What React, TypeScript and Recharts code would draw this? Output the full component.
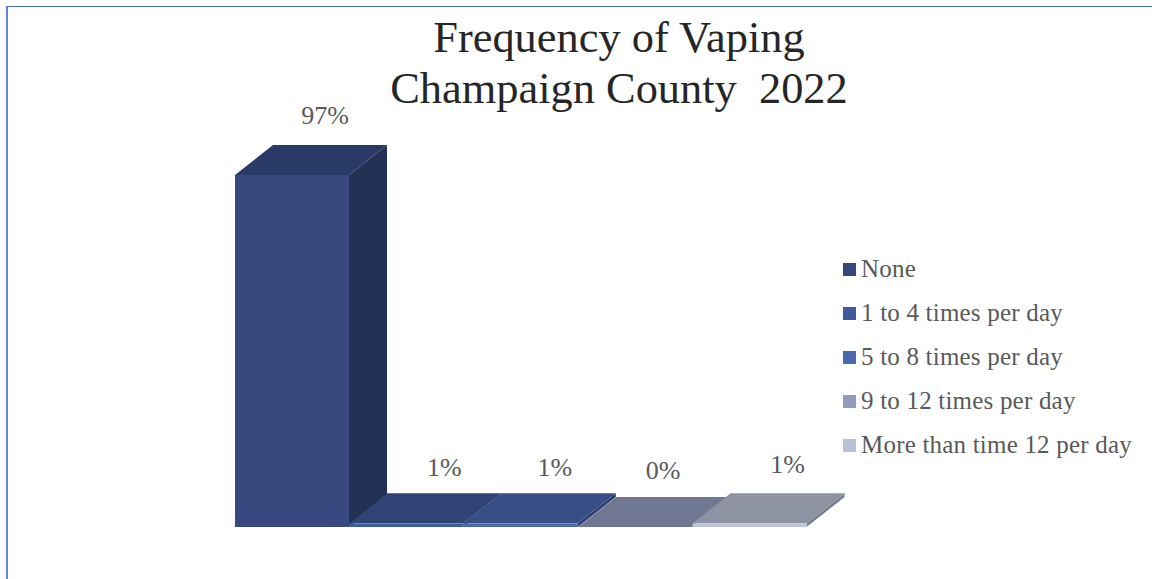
import React from "react";
import { Bar, BarChart, Cell, LabelList, XAxis, YAxis } from "recharts";

const categories = [
  "None",
  "1 to 4 times per day",
  "5 to 8 times per day",
  "9 to 12 times per day",
  "More than time 12 per day",
];
const percents = [97, 1, 1, 0, 1];

const legendColors = ["#35487c", "#3e5a99", "#4a69b0", "#8f9bbd", "#bac2d9"];
const frontColors = ["#38497f", "#3f5da6", "#4a69b5", "#6f7692", "#bcc3da"];
const topColors = ["#2a3a66", "#2f4474", "#384f85", "#707793", "#8d93a3"];
const sideColors = ["#233254", "#2a3f70", "#2a3f70", "#6f7692", "#787e90"];
// the data labels were dragged by hand in the original
const labelNudges = [
  [-3, -3],
  [2, 1],
  [-2, 1],
  [-8, 0],
  [2, -2],
];

const DEPTH_X = 38;
const DEPTH_Y = 30;
const serif = "'Liberation Serif', serif";

const data = categories.map((name, i) => ({ name, value: percents[i] }));

const Box3D = (props: any) => {
  const { x, y, width, height, index } = props;
  const pts = (list: number[][]) => list.map((p) => p.join(",")).join(" ");
  return (
    <g>
      <polygon
        points={pts([
          [x + width, y],
          [x + width + DEPTH_X, y - DEPTH_Y],
          [x + width + DEPTH_X, y + height - DEPTH_Y],
          [x + width, y + height],
        ])}
        fill={sideColors[index]}
      />
      <polygon
        points={pts([
          [x, y],
          [x + DEPTH_X, y - DEPTH_Y],
          [x + width + DEPTH_X, y - DEPTH_Y],
          [x + width, y],
        ])}
        fill={topColors[index]}
      />
      <rect x={x} y={y} width={width} height={height} fill={frontColors[index]} />
    </g>
  );
};

const PercentLabel = (props: any) => {
  const { x, y, width, value, index } = props;
  const [nx, ny] = labelNudges[index];
  return (
    <text
      x={x + width / 2 + 36 + nx}
      y={y - 57 + ny}
      textAnchor="middle"
      dominantBaseline="central"
      fontFamily={serif}
      fontSize={26}
      fill="#595959"
    >
      {value}%
    </text>
  );
};

const LegendList = () => (
  <div style={{ position: "absolute", left: 843, top: 247 }}>
    {categories.map((name, i) => (
      <div
        key={name}
        style={{ display: "flex", alignItems: "center", height: 44, whiteSpace: "nowrap" }}
      >
        <span
          style={{ width: 13, height: 13, marginRight: 5, background: legendColors[i] }}
        />
        <span
          style={{ fontFamily: serif, fontSize: 25, letterSpacing: 0.2, color: "#595959" }}
        >
          {name}
        </span>
      </div>
    ))}
  </div>
);

export default function App() {
  return (
    <div
      style={{
        position: "absolute",
        left: 0,
        top: 0,
        width: 1152,
        height: 579,
        overflow: "hidden",
        background: "#fff",
      }}
    >
      <div
        style={{
          position: "absolute",
          left: 6,
          top: 6,
          right: -4,
          bottom: -4,
          borderLeft: "2px solid #5b87d3",
          borderTop: "1px solid #4472c4",
        }}
      />
      <div
        style={{
          position: "absolute",
          left: 319,
          top: 12,
          width: 600,
          textAlign: "center",
          fontFamily: serif,
          fontSize: 44.4,
          lineHeight: "51px",
          color: "#262626",
        }}
      >
        Frequency of Vaping
        <br />
        Champaign County&nbsp; 2022
      </div>
      <BarChart
        width={1152}
        height={579}
        data={data}
        barCategoryGap={0}
        margin={{ top: 175, right: 345, bottom: 52, left: 235 }}
        style={{ position: "absolute", left: 0, top: 0 }}
      >
        <XAxis dataKey="name" hide />
        <YAxis hide domain={[0, 97]} />
        <Bar dataKey="value" shape={<Box3D />} isAnimationActive={false}>
          {data.map((d, i) => (
            <Cell key={d.name} fill={frontColors[i]} />
          ))}
          <LabelList dataKey="value" content={<PercentLabel />} />
        </Bar>
      </BarChart>
      <LegendList />
    </div>
  );
}
